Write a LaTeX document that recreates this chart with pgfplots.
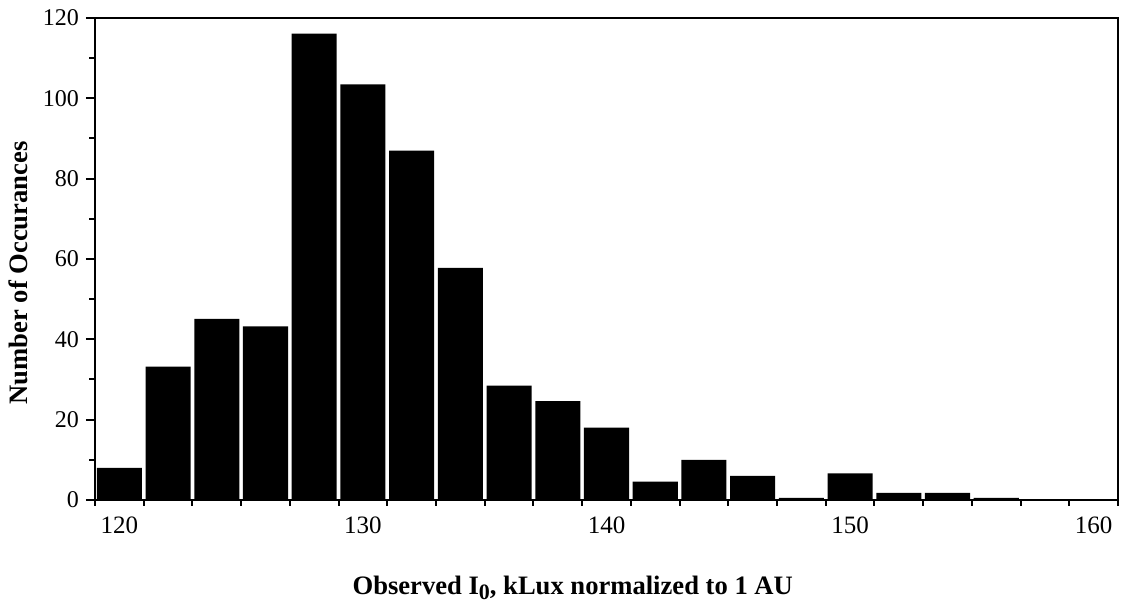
\documentclass[border=0pt]{standalone}
\usepackage{fontspec}
\setmainfont{Liberation Serif}
\usepackage{pgfplots}
\pgfplotsset{compat=1.18}
\usetikzlibrary{calc}

\pgfplotstableread{
x    n
120  8
122  33.2
124  45.1
126  43.2
128  116.1
130  103.5
132  87
134  57.8
136  28.5
138  24.6
140  18
142  4.6
144  10
146  6
148  0.5
150  6.6
152  1.8
154  1.8
156  0.5
}\counts

\begin{document}
\begin{tikzpicture}
\begin{axis}[
  name=ax,
  scale only axis,
  width=511.5pt, height=241pt,
  xmin=119, xmax=161, ymin=0, ymax=120,
  axis line style={line width=1.2pt},
  ybar, bar width=1.85,
  % bin edges carry the short ticks, the labels sit on extra ticks
  xtick={119,121,...,161}, xticklabels={},
  extra x ticks={120,130,...,160},
  extra x tick labels={120,130,140,150,160},
  extra x tick style={major tick length=0pt,
    xticklabel style={yshift=-5pt, font=\fontsize{12.5}{14}\selectfont}},
  ytick={10,30,...,110}, yticklabels={},
  extra y ticks={0,20,...,120},
  extra y tick labels={0,20,40,60,80,100,120},
  extra y tick style={major tick length=4.5pt},
  xtick pos=bottom, ytick pos=left,
  tick align=outside,
  major tick length=2.8pt,
  tick style={black, line width=1pt},
  /pgf/number format/assume math mode=true,
  ticklabel style={font=\fontsize{12}{14}\selectfont},
  xlabel={Observed I\raisebox{-0.45ex}{\fontsize{11}{13}\selectfont 0}, kLux normalized to 1 AU},
  ylabel={Number of Occurances},
  label style={font=\fontsize{13.3}{15}\selectfont\bfseries},
  xlabel style={at={(axis description cs:0.467,0)}, anchor=base, yshift=-47pt},
  ylabel style={at={(axis description cs:0,0.5)}, anchor=base, yshift=33.5pt, xshift=-7pt},
]
\addplot[fill=black, draw=none] table[x=x, y=n] {\counts};
\end{axis}
\pgfresetboundingbox
\useasboundingbox ($(ax.south west)+(-47.5pt,-51.5pt)$) rectangle ($(ax.north east)+(4pt,9pt)$);
\end{tikzpicture}
\end{document}
